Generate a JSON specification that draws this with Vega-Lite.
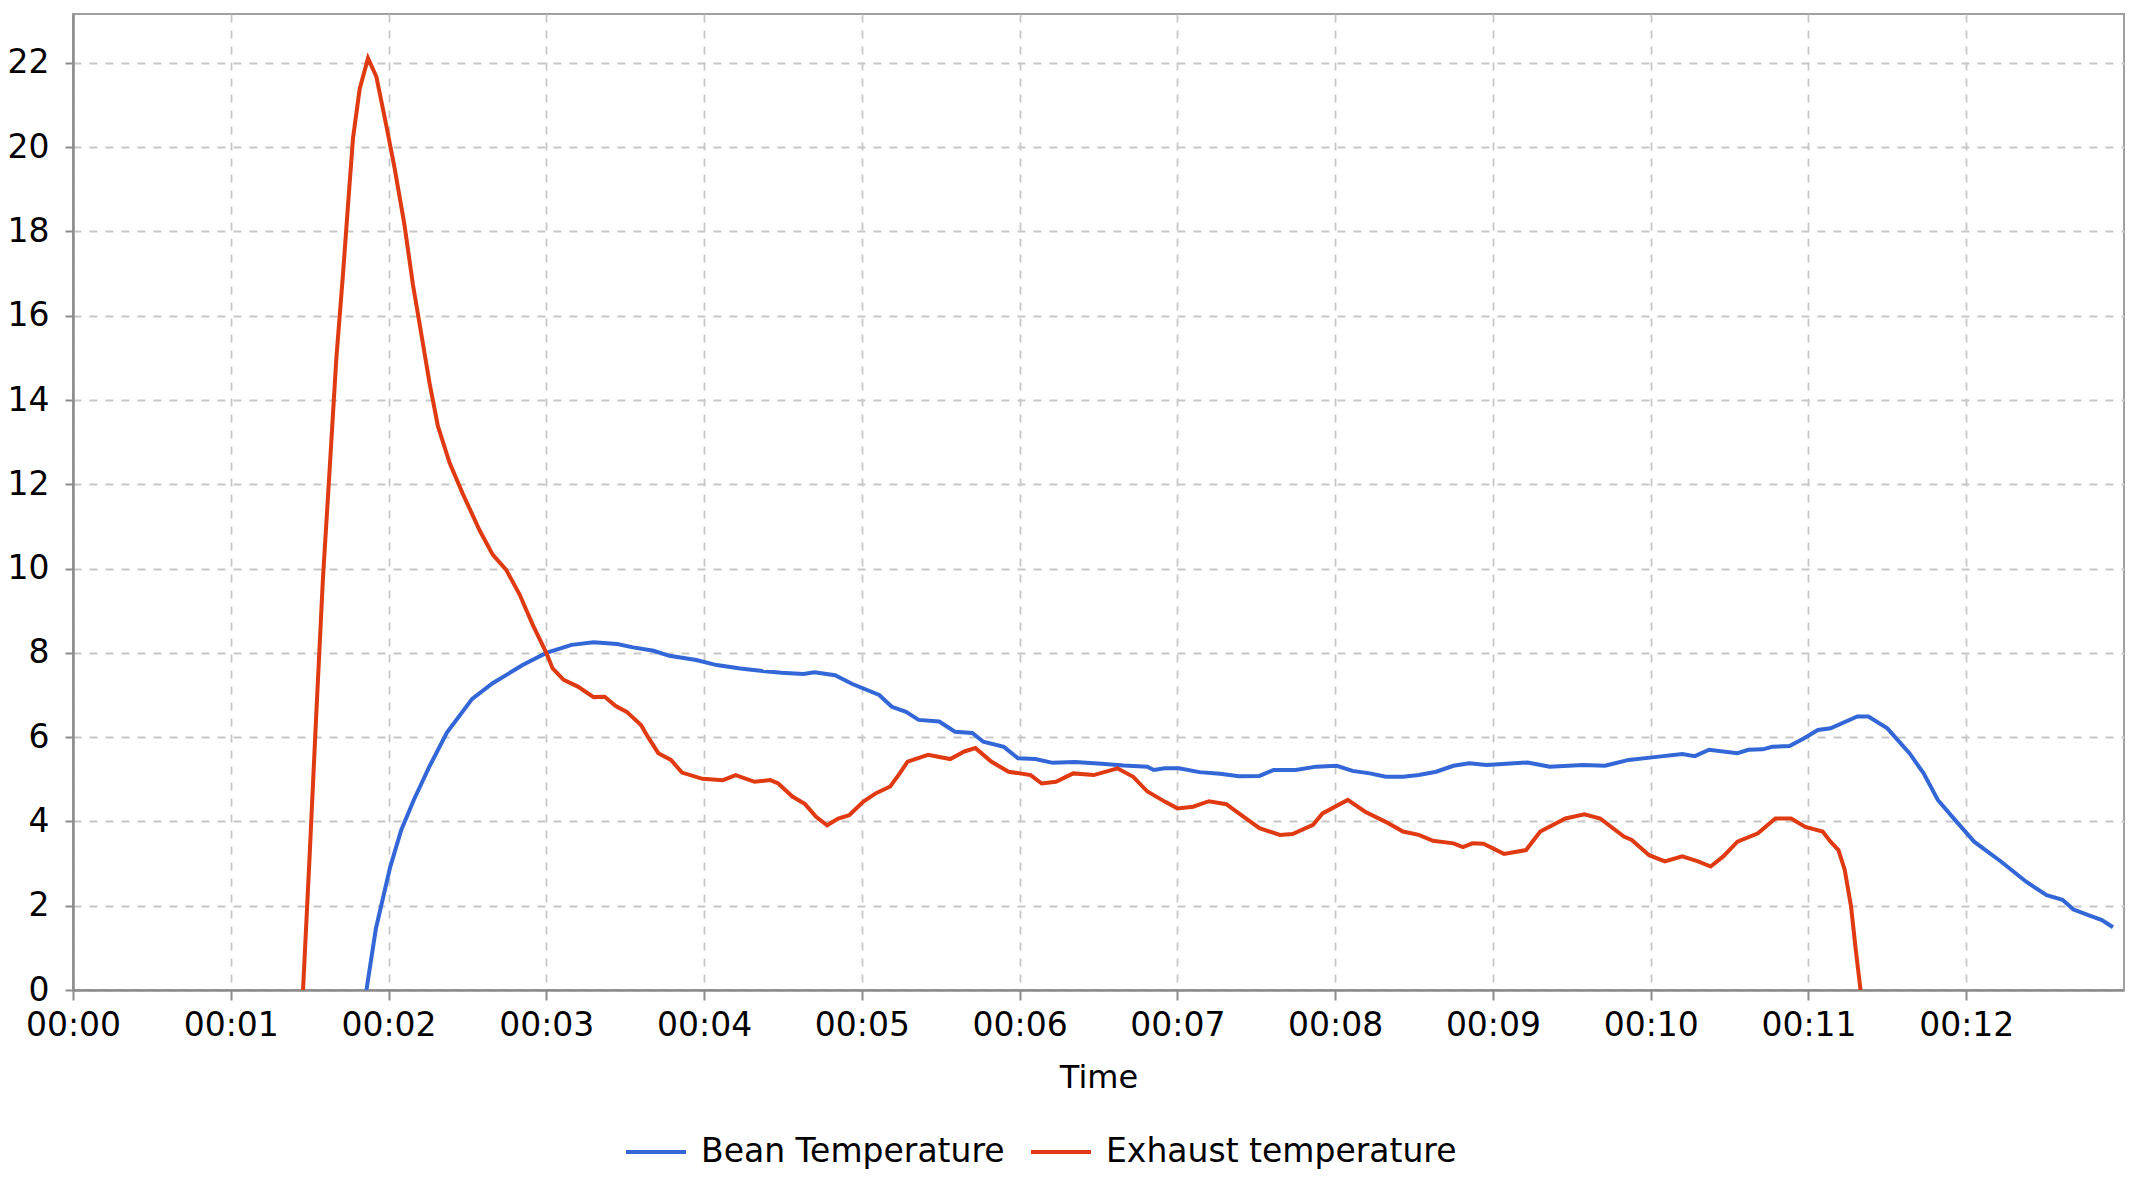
{
  "$schema": "https://vega.github.io/schema/vega-lite/v6.json",
  "autosize": "none",
  "padding": {"left": 73, "top": 14, "right": 16, "bottom": 198},
  "width": 2051,
  "height": 976,
  "background": "white",
  "config": {
    "font": "DejaVu Sans",
    "view": {"stroke": "#a0a0a0", "strokeWidth": 2},
    "axis": {
      "labelFont": "DejaVu Sans",
      "labelFontSize": 33,
      "labelColor": "#000000",
      "titleFont": "DejaVu Sans",
      "titleFontSize": 32,
      "titleFontWeight": "normal",
      "titleColor": "#000000",
      "domainColor": "#8c8c8c",
      "domainWidth": 2.5,
      "tickColor": "#8c8c8c",
      "tickWidth": 2,
      "gridColor": "#c8c8c8",
      "gridDash": [8, 8],
      "gridWidth": 1.8
    },
    "legend": {
      "labelFont": "DejaVu Sans",
      "labelFontSize": 33,
      "labelColor": "#000000",
      "labelLimit": 0
    }
  },
  "datasets": {
    "bean": [
      [1.86,0],[1.92,1.46],[2.01,2.91],[2.08,3.79],[2.16,4.51],[2.26,5.31],[2.37,6.11],[2.53,6.91],[2.66,7.28],[2.85,7.71],[3.0,8.0],[3.16,8.19],[3.3,8.25],[3.45,8.21],[3.55,8.13],[3.68,8.05],[3.78,7.93],[3.95,7.83],[4.08,7.71],[4.23,7.63],[4.37,7.57],[4.49,7.53],[4.63,7.5],[4.7,7.54],[4.83,7.47],[4.94,7.26],[5.11,7.0],[5.19,6.72],[5.28,6.6],[5.36,6.41],[5.49,6.37],[5.59,6.13],[5.7,6.1],[5.77,5.89],[5.9,5.77],[5.99,5.5],[6.1,5.48],[6.21,5.39],[6.35,5.41],[6.52,5.37],[6.66,5.33],[6.81,5.3],[6.85,5.22],[6.92,5.26],[7.01,5.26],[7.14,5.17],[7.27,5.13],[7.39,5.07],[7.52,5.08],[7.61,5.22],[7.75,5.22],[7.88,5.3],[8.01,5.32],[8.11,5.2],[8.22,5.14],[8.32,5.06],[8.43,5.06],[8.53,5.1],[8.64,5.18],[8.75,5.32],[8.85,5.38],[8.96,5.34],[9.06,5.36],[9.22,5.4],[9.36,5.3],[9.57,5.34],[9.71,5.32],[9.86,5.46],[10.01,5.52],[10.2,5.6],[10.28,5.55],[10.37,5.7],[10.55,5.62],[10.62,5.7],[10.71,5.71],[10.77,5.77],[10.88,5.79],[10.97,5.97],[11.06,6.17],[11.14,6.21],[11.31,6.49],[11.38,6.49],[11.5,6.21],[11.64,5.62],[11.73,5.14],[11.82,4.51],[11.93,4.03],[12.05,3.52],[12.22,3.05],[12.38,2.57],[12.51,2.25],[12.61,2.14],[12.68,1.91],[12.77,1.78],[12.86,1.66],[12.93,1.49]
    ],
    "exhaust": [
      [1.458,0],[1.5,3.2],[1.542,6.55],[1.584,9.75],[1.627,12.37],[1.669,14.98],[1.712,17.02],[1.743,18.62],[1.775,20.22],[1.817,21.38],[1.87,22.11],[1.923,21.67],[1.986,20.51],[2.039,19.49],[2.1,18.18],[2.155,16.73],[2.208,15.56],[2.26,14.4],[2.313,13.38],[2.387,12.51],[2.47,11.78],[2.577,10.91],[2.66,10.33],[2.746,9.97],[2.83,9.39],[2.915,8.66],[3.0,8.0],[3.04,7.63],[3.11,7.36],[3.2,7.2],[3.3,6.95],[3.37,6.96],[3.44,6.74],[3.51,6.6],[3.6,6.29],[3.65,5.97],[3.71,5.62],[3.79,5.46],[3.86,5.16],[3.99,5.01],[4.12,4.98],[4.2,5.1],[4.32,4.94],[4.42,4.98],[4.47,4.9],[4.56,4.59],[4.64,4.41],[4.71,4.11],[4.78,3.91],[4.85,4.07],[4.92,4.15],[5.01,4.47],[5.09,4.67],[5.18,4.83],[5.24,5.14],[5.29,5.42],[5.42,5.58],[5.56,5.48],[5.65,5.66],[5.72,5.74],[5.82,5.42],[5.93,5.18],[6.07,5.1],[6.14,4.9],[6.23,4.94],[6.34,5.14],[6.47,5.1],[6.62,5.26],[6.72,5.06],[6.81,4.71],[6.92,4.47],[7.0,4.31],[7.1,4.35],[7.2,4.48],[7.31,4.41],[7.39,4.19],[7.52,3.84],[7.65,3.68],[7.73,3.7],[7.86,3.92],[7.92,4.19],[8.08,4.51],[8.19,4.23],[8.32,3.99],[8.43,3.76],[8.53,3.68],[8.62,3.54],[8.75,3.48],[8.81,3.39],[8.87,3.48],[8.94,3.47],[9.07,3.23],[9.21,3.32],[9.3,3.76],[9.46,4.07],[9.58,4.17],[9.68,4.07],[9.83,3.64],[9.88,3.56],[9.99,3.2],[10.09,3.05],[10.2,3.17],[10.3,3.05],[10.38,2.93],[10.46,3.17],[10.55,3.52],[10.68,3.72],[10.79,4.07],[10.89,4.07],[10.98,3.87],[11.09,3.76],[11.14,3.52],[11.19,3.32],[11.23,2.85],[11.27,1.98],[11.3,0.95],[11.33,0]
    ]
  },
  "data": {"name": "bean"},
  "transform": [
    {"calculate": "'Bean Temperature'", "as": "series"},
    {"calculate": "datum[0]", "as": "minutes"},
    {"calculate": "datum[1]", "as": "temp"}
  ],
  "layer": [
    {
      "mark": {"type": "line", "strokeWidth": 4, "clip": true},
      "encoding": {
        "x": {
          "field": "minutes",
          "type": "quantitative",
          "scale": {"domain": [0, 13], "nice": false, "zero": false},
          "axis": {
            "title": "Time",
            "values": [0,1,2,3,4,5,6,7,8,9,10,11,12],
            "labelExpr": "'00:' + (datum.value < 10 ? '0' : '') + datum.value",
            "tickSize": 10,
            "labelPadding": 9,
            "titlePadding": 20,
            "labelFlush": false
          }
        },
        "y": {
          "field": "temp",
          "type": "quantitative",
          "scale": {"domain": [0, 23.16], "nice": false},
          "axis": {
            "title": null,
            "values": [0,2,4,6,8,10,12,14,16,18,20,22],
            "tickSize": 8,
            "labelPadding": 16,
            "labelFlush": false
          }
        },
        "color": {
          "field": "series",
          "type": "nominal",
          "scale": {
            "domain": ["Bean Temperature", "Exhaust temperature"],
            "range": ["#3366d6", "#e03a12"]
          },
          "legend": {
            "title": null,
            "orient": "none",
            "legendX": 551,
            "legendY": 1106,
            "direction": "horizontal",
            "symbolType": "stroke",
            "symbolSize": 3600,
            "symbolStrokeWidth": 4,
            "labelOffset": 13,
            "columnPadding": 18
          }
        }
      }
    },
    {
      "data": {"name": "exhaust"},
      "transform": [
        {"calculate": "'Exhaust temperature'", "as": "series"},
        {"calculate": "datum[0]", "as": "minutes"},
        {"calculate": "datum[1]", "as": "temp"}
      ],
      "mark": {"type": "line", "strokeWidth": 4, "clip": true},
      "encoding": {
        "x": {"field": "minutes", "type": "quantitative"},
        "y": {"field": "temp", "type": "quantitative"},
        "color": {"field": "series", "type": "nominal"}
      }
    }
  ]
}
